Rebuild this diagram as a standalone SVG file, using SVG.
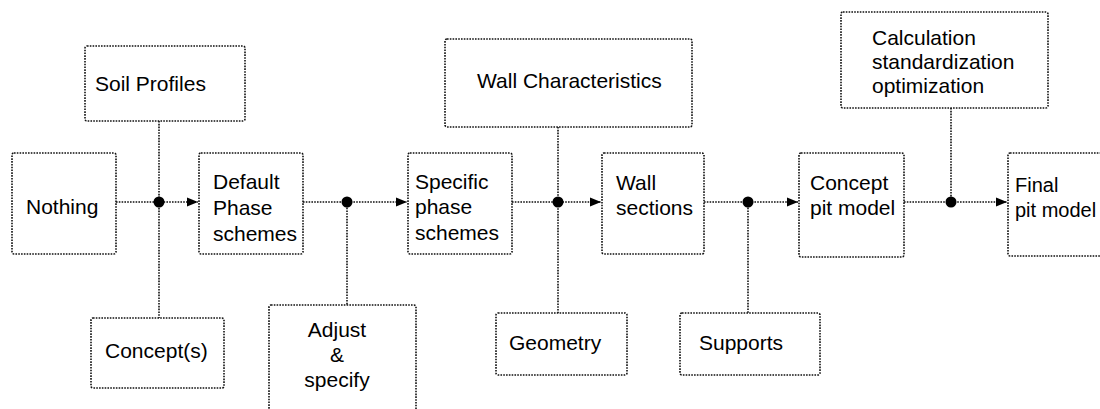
<svg xmlns="http://www.w3.org/2000/svg" width="1100" height="409" viewBox="0 0 1100 409">
<style>
.box{fill:#fff;stroke:#111;stroke-width:1.6;stroke-dasharray:1.6 1.2}
.ln{fill:none;stroke:#111;stroke-width:1.6;stroke-dasharray:1.6 1.2}
.dot{fill:#000}
text{font-family:"Liberation Sans",Arial,sans-serif;font-size:21px;fill:#000}
.c{text-anchor:middle}
.s{font-size:20px}
</style>
<defs>
<marker id="arr" markerWidth="12" markerHeight="10" refX="11" refY="5" orient="auto" markerUnits="userSpaceOnUse">
<path d="M0,0.5 L11,5 L0,9.5 Z" fill="#000"/>
</marker>
</defs>
<rect width="1100" height="409" fill="#fff"/>
<g id="connectors">
<path class="ln" d="M116,202 H198" marker-end="url(#arr)"/>
<path class="ln" d="M159,121 V318"/>
<path class="ln" d="M303,202 H407" marker-end="url(#arr)"/>
<path class="ln" d="M347,202 V305"/>
<path class="ln" d="M512,202 H601" marker-end="url(#arr)"/>
<path class="ln" d="M558,127 V313"/>
<path class="ln" d="M704,202 H798" marker-end="url(#arr)"/>
<path class="ln" d="M748,202 V313"/>
<path class="ln" d="M904,202 H1007" marker-end="url(#arr)"/>
<path class="ln" d="M951,108 V202"/>
<circle class="dot" cx="159" cy="202" r="5.5"/>
<circle class="dot" cx="347" cy="202" r="5.5"/>
<circle class="dot" cx="558" cy="202" r="5.5"/>
<circle class="dot" cx="748" cy="202" r="5.5"/>
<circle class="dot" cx="951" cy="202" r="5.5"/>
</g>
<g id="nothing"><rect class="box" x="12" y="153" width="104" height="101" rx="2"/><text x="26" y="214">Nothing</text></g>
<g id="soil-profiles"><rect class="box" x="85" y="46" width="160" height="75" rx="2"/><text x="95" y="91">Soil Profiles</text></g>
<g id="concepts"><rect class="box" x="91" y="318" width="133" height="70" rx="2"/><text x="105" y="358">Concept(s)</text></g>
<g id="default-phase"><rect class="box" x="199" y="153" width="104" height="101" rx="2"/><text x="213" y="189">Default</text><text x="213" y="215">Phase</text><text x="213" y="241">schemes</text></g>
<g id="adjust"><rect class="box" x="269" y="305" width="147" height="112" rx="2"/><text class="c" x="337" y="337">Adjust</text><text class="c" x="337" y="362">&amp;</text><text class="c" x="337" y="387">specify</text></g>
<g id="specific-phase"><rect class="box" x="408" y="153" width="104" height="101" rx="2"/><text x="415" y="189">Specific</text><text x="415" y="214">phase</text><text x="415" y="240">schemes</text></g>
<g id="wall-characteristics"><rect class="box" x="445" y="39" width="247" height="88" rx="2"/><text x="477" y="88">Wall Characteristics</text></g>
<g id="geometry"><rect class="box" x="496" y="313" width="131" height="62" rx="2"/><text x="509" y="350">Geometry</text></g>
<g id="wall-sections"><rect class="box" x="602" y="153" width="102" height="101" rx="2"/><text x="616" y="190">Wall</text><text x="616" y="215">sections</text></g>
<g id="supports"><rect class="box" x="680" y="313" width="140" height="62" rx="2"/><text x="699" y="350">Supports</text></g>
<g id="concept-pit-model"><rect class="box" x="799" y="153" width="105" height="104" rx="2"/><text x="810" y="190">Concept</text><text x="810" y="215">pit model</text></g>
<g id="calculation"><rect class="box" x="841" y="12" width="207" height="96" rx="2"/><text x="872" y="45">Calculation</text><text x="872" y="69">standardization</text><text x="872" y="93">optimization</text></g>
<g id="final-pit-model"><rect class="box" x="1008" y="153" width="110" height="103" rx="2"/><text class="s" x="1015" y="192">Final</text><text class="s" x="1015" y="217">pit model</text></g>
</svg>
